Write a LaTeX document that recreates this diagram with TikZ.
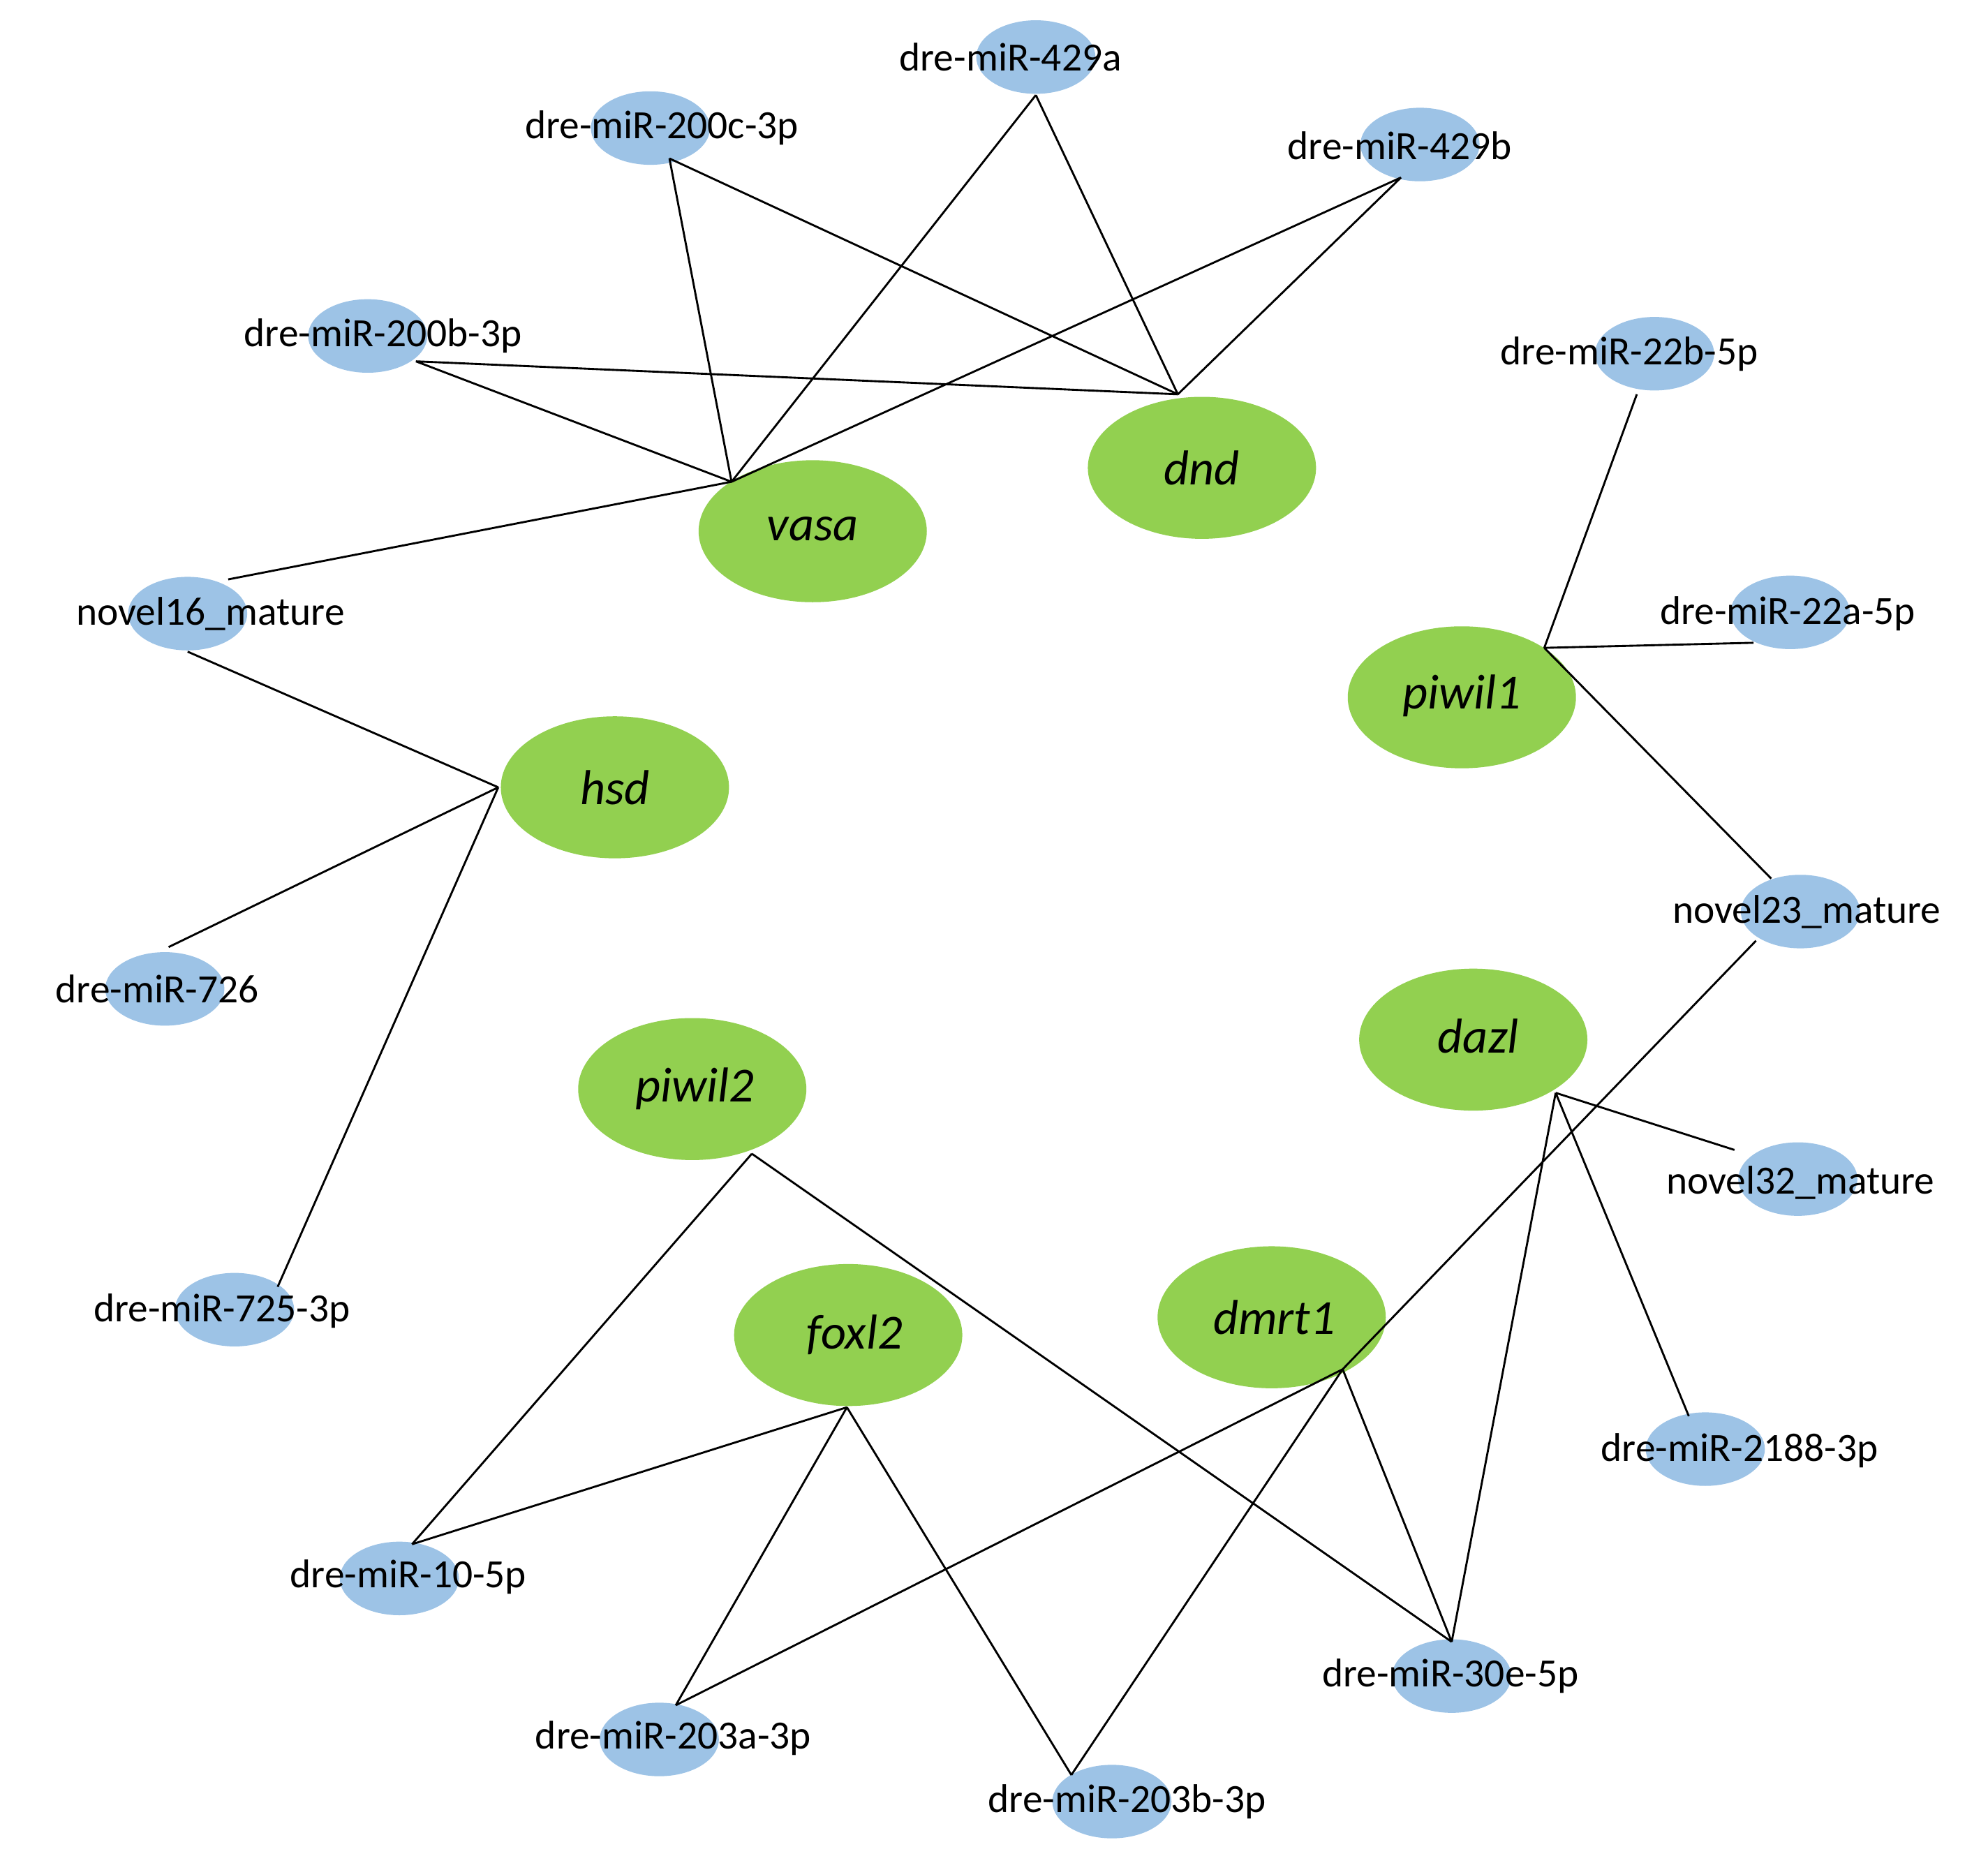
\documentclass[tikz,border=0pt]{standalone}
\usepackage{fontspec}
\setmainfont{Carlito}
\begin{document}
\begin{tikzpicture}[x=0.02cm,y=-0.02cm,
  mir/.style={ellipse,fill=blueE,minimum width=1.9cm,minimum height=1.16cm,inner sep=0},
  gene/.style={ellipse,fill=greenE,minimum width=3.6cm,minimum height=2.24cm,inner sep=0},
  lab/.style={font=\fontsize{18}{20}\selectfont,inner sep=0},
  glab/.style={font=\fontsize{22}{24}\selectfont\itshape,inner sep=0},
  edge/.style={black,line width=0.9pt}]
\definecolor{blueE}{RGB}{157,195,230}
\definecolor{greenE}{RGB}{146,208,80}
\useasboundingbox (0,0) rectangle (1568,1469);
\tikzset{ellipse/.style={shape=ellipse}}
\pgfdeclareshape{dummy}{}
% blue ellipses
\foreach \n/\x/\y in {a429a/817/45,a200c/513/101,a429b/1120/114,a200b/290/265,a22b/1305/279,n16/148/484,a22a/1412/483,n23/1420/719,a726/130/780,n32/1418/930,a725/185/1033,a2188/1345/1143,a10/315/1245,a30e/1145/1322,a203a/520/1372,a203b/877/1421}
  \fill[blueE] (\x,\y) ellipse [x radius=47,y radius=29];
% green ellipses
\foreach \x/\y in {641/419,948/369,1153/550,485/621,1162/820,546/859,669/1053,1003/1039}
  \fill[greenE] (\x,\y) ellipse [x radius=90,y radius=56];
% anchor points
\coordinate (vasa) at (577,380);
\coordinate (dnd) at (929,311);
\coordinate (piwil1) at (1218,511);
\coordinate (hsd) at (393,621);
\coordinate (dazl) at (1227,862);
\coordinate (piwil2) at (593,910);
\coordinate (foxl2) at (668,1110);
\coordinate (dmrt1) at (1059,1080);
\coordinate (p429a) at (817,75);
\coordinate (p200c) at (528,125);
\coordinate (p429b) at (1105,140);
\coordinate (p200b) at (328,285);
\coordinate (p22b) at (1291,311);
\coordinate (p16t) at (180,457);
\coordinate (p16b) at (148,514);
\coordinate (p22a) at (1383,507);
\coordinate (p23t) at (1397,693);
\coordinate (p23b) at (1385,742);
\coordinate (p726) at (133,747);
\coordinate (p32) at (1368,907);
\coordinate (p725) at (219,1015);
\coordinate (p2188) at (1332,1117);
\coordinate (p10) at (325,1218);
\coordinate (p30e) at (1145,1295);
\coordinate (p203a) at (533,1345);
\coordinate (p203b) at (845,1400);
% edges
\draw[edge] (p200c)--(vasa) (p200c)--(dnd) (p429a)--(vasa) (p429a)--(dnd)
 (p429b)--(vasa) (p429b)--(dnd) (p200b)--(vasa) (p200b)--(dnd)
 (p16t)--(vasa) (p16b)--(hsd) (hsd)--(p726) (hsd)--(p725)
 (p22b)--(piwil1) (p22a)--(piwil1) (piwil1)--(p23t) (p23b)--(dmrt1)
 (dazl)--(p32) (dazl)--(p2188) (dazl)--(p30e)
 (piwil2)--(p10) (piwil2)--(p30e)
 (foxl2)--(p10) (foxl2)--(p203a) (foxl2)--(p203b)
 (dmrt1)--(p203a) (dmrt1)--(p203b) (dmrt1)--(p30e);
% labels
\node[lab] (t429a) at (797,45) {dre-miR-429a};
\node[lab] (t200c) at (522,101) {dre-miR-200c-3p};
\node[lab] (t429b) at (1104,115) {dre-miR-429b};
\node[lab] (t200b) at (302,265) {dre-miR-200b-3p};
\node[lab] (t22b) at (1285,279) {dre-miR-22b-5p};
\node[lab] (t16) at (166,484) {novel16\_mature};
\node[lab] (t22a) at (1410,484) {dre-miR-22a-5p};
\node[lab] (t23) at (1425,719) {novel23\_mature};
\node[lab] (t726) at (124,780) {dre-miR-726};
\node[lab] (t32) at (1420,933) {novel32\_mature};
\node[lab] (t725) at (175,1034) {dre-miR-725-3p};
\node[lab] (t2188) at (1372,1144) {dre-miR-2188-3p};
\node[lab] (t10) at (322,1244) {dre-miR-10-5p};
\node[lab] (t30e) at (1144,1322) {dre-miR-30e-5p};
\node[lab] (t203a) at (531,1371) {dre-miR-203a-3p};
\node[lab] (t203b) at (889,1421) {dre-miR-203b-3p};
\node[glab] (gvasa) at (641,417) {vasa};
\node[glab] (gdnd) at (948,369) {dnd};
\node[glab] (gpiwil1) at (1153,549) {piwil1};
\node[glab] (ghsd) at (485,621) {hsd};
\node[glab] (gdazl) at (1166,817) {dazl};
\node[glab] (gpiwil2) at (548,859) {piwil2};
\node[glab] (gfoxl2) at (674,1053) {foxl2};
\node[glab] (gdmrt1) at (1005,1039) {dmrt1};
\end{tikzpicture}
\end{document}
